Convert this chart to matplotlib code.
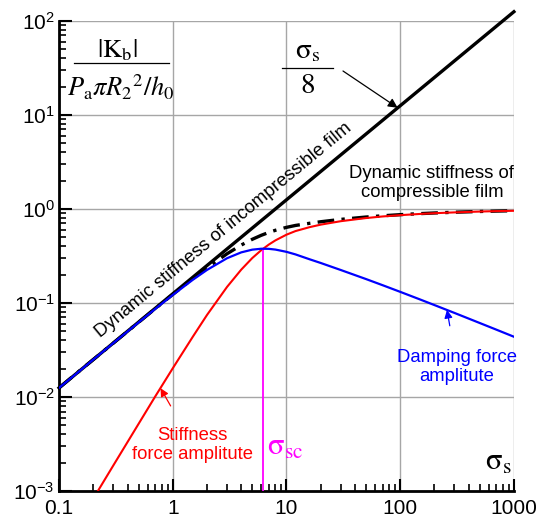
import matplotlib
matplotlib.use("Agg")
import matplotlib.pyplot as plt
from matplotlib.ticker import LogLocator, NullFormatter

plt.rcParams['font.family'] = ['Liberation Sans', 'DejaVu Sans']
plt.rcParams['axes.unicode_minus'] = False

# squeeze number samples
sigma = [0.1, 0.15, 0.2, 0.3, 0.5, 0.7, 1, 1.5, 2, 3, 4, 5, 6, 7, 8, 10, 12, 16, 20,
         30, 50, 70, 100, 150, 200, 300, 500, 700, 1000]
stiffness = [0.00021, 0.00047, 0.00083, 0.00187, 0.00517, 0.0101, 0.0202, 0.0437, 0.0745,
             0.148, 0.226, 0.300, 0.364, 0.418, 0.463, 0.532, 0.581, 0.640, 0.680,
             0.740, 0.799, 0.831, 0.858, 0.884, 0.900, 0.918, 0.937, 0.947, 0.955]
damping = [0.0125, 0.0187, 0.0250, 0.0374, 0.0620, 0.0863, 0.1215, 0.1762, 0.2244,
           0.2988, 0.3449, 0.3686, 0.3770, 0.3759, 0.3693, 0.3494, 0.3281, 0.291, 0.266,
           0.224, 0.1795, 0.1544, 0.1312, 0.1087, 0.0949, 0.0783, 0.0612, 0.0520, 0.0437]
compressible = [0.0125, 0.0188, 0.0250, 0.0374, 0.0622, 0.0869, 0.1232, 0.1816, 0.2365,
                0.3334, 0.4125, 0.4750, 0.5240, 0.5623, 0.5926, 0.6365, 0.6669, 0.7031, 0.7302,
                0.7735, 0.8193, 0.8448, 0.8684, 0.8911, 0.9049, 0.9216, 0.9387, 0.9479, 0.9563]
incomp_x = [0.1, 1000]
incomp_y = [0.0125, 125]
sigma_sc = 6.25
peak_sc = 0.38

x_ticks = [0.1, 1, 10, 100, 1000]
x_labels = ['0.1', '1', '10', '100', '1000']

fig = plt.figure(figsize=(5.37, 5.21), dpi=100)
ax = fig.add_axes([0.110, 0.0576, 0.847, 0.9024])
ax.set_xscale('log')
ax.set_yscale('log')
ax.set_xlim(0.1, 1000)
ax.set_ylim(1e-3, 1e2)

ax.grid(True, which='major', color='#a6a6a6', lw=1.0, zorder=0)
for s in ['top', 'right']:
    ax.spines[s].set_visible(False)
for s in ['left', 'bottom']:
    ax.spines[s].set_linewidth(2.0)

ax.plot(incomp_x, incomp_y, color='black', lw=2.4, clip_on=False, zorder=3)
ax.plot(sigma, compressible, color='black', lw=2.4, dashes=(5, 2.2, 1, 2.2), zorder=3)
ax.plot(sigma, stiffness, color='#ff0000', lw=1.5, zorder=4)
ax.plot(sigma, damping, color='#0000ff', lw=1.6, zorder=5)
ax.vlines(sigma_sc, 1e-3, peak_sc, color='#ff00ff', lw=1.3, zorder=4)

ax.set_xticks(x_ticks)
ax.set_xticklabels(x_labels)
ax.xaxis.set_minor_locator(LogLocator(base=10, subs=range(2, 10), numticks=20))
ax.yaxis.set_minor_locator(LogLocator(base=10, subs=range(2, 10), numticks=20))
ax.xaxis.set_minor_formatter(NullFormatter())
ax.yaxis.set_minor_formatter(NullFormatter())
ax.tick_params(which='major', direction='in', length=9, width=1.5, labelsize=15, pad=6)
ax.tick_params(which='minor', direction='in', length=5, width=1.2)
ax.tick_params(axis='y', which='major', pad=3)

# y-axis label as a fraction
tr = fig.transFigure
fig.text(117 / 537, 1 - 50 / 521, r'$|\mathrm{K}_\mathrm{b}|$', ha='center', va='center',
         fontsize=19, math_fontfamily='stix')
fig.add_artist(plt.Line2D([74 / 537, 169 / 537], [1 - 63.5 / 521, 1 - 63.5 / 521],
                          color='black', lw=0.9, transform=tr))
fig.text(121 / 537, 1 - 87 / 521, r'$P_\mathrm{a}\pi R_2{}^2/h_0$', ha='center', va='center',
         fontsize=19, math_fontfamily='stix')

# sigma_s / 8
fig.text(308 / 537, 1 - 50 / 521, r'$\mathrm{σ}_\mathrm{s}$', ha='center', va='center',
         fontsize=21, math_fontfamily='stix')
fig.add_artist(plt.Line2D([282 / 537, 333 / 537], [1 - 68 / 521, 1 - 68 / 521],
                          color='black', lw=0.9, transform=tr))
fig.text(308 / 537, 1 - 85 / 521, r'$8$', ha='center', va='center',
         fontsize=21, math_fontfamily='stix')
ax.annotate('', xy=(95, 11.9), xycoords='data',
            xytext=(343 / 537, 1 - 71 / 521), textcoords='figure fraction',
            arrowprops=dict(arrowstyle='-|>', color='black', lw=0.9,
                            mutation_scale=14, shrinkA=0, shrinkB=0))

ax.text(2.77, 0.60, 'Dynamic stiffness of incompressible film', rotation=39.6,
        rotation_mode='anchor', ha='center', va='center', fontsize=13.3)
ax.text(190, 1.89, 'Dynamic stiffness of\ncompressible film', ha='center', va='center',
        fontsize=13.3, linespacing=1.1)

ax.annotate('Stiffness\nforce amplitute', xy=(0.78, 0.0124), xytext=(1.5, 0.0031),
            ha='center', va='center', color='#ff0000', fontsize=13.3, linespacing=1.15,
            arrowprops=dict(arrowstyle='-|>', color='#ff0000', lw=0.9,
                            mutation_scale=12, shrinkA=15, shrinkB=0))
ax.annotate('Damping force\namplitute', xy=(258, 0.0843), xytext=(316, 0.0208),
            ha='center', va='center', color='#0000ff', fontsize=13.3, linespacing=1.15,
            arrowprops=dict(arrowstyle='-|>', color='#0000ff', lw=0.9,
                            mutation_scale=12, shrinkA=15, shrinkB=0))

ax.text(6.75, 0.0024, r'$\mathrm{σ}_\mathrm{sc}$', color='#ff00ff', fontsize=22,
        math_fontfamily='stix', ha='left', va='baseline')
ax.text(560, 0.00167, r'$\mathrm{σ}_\mathrm{s}$', color='black', fontsize=22,
        math_fontfamily='stix', ha='left', va='baseline')

fig.savefig('out.png', dpi=100)
